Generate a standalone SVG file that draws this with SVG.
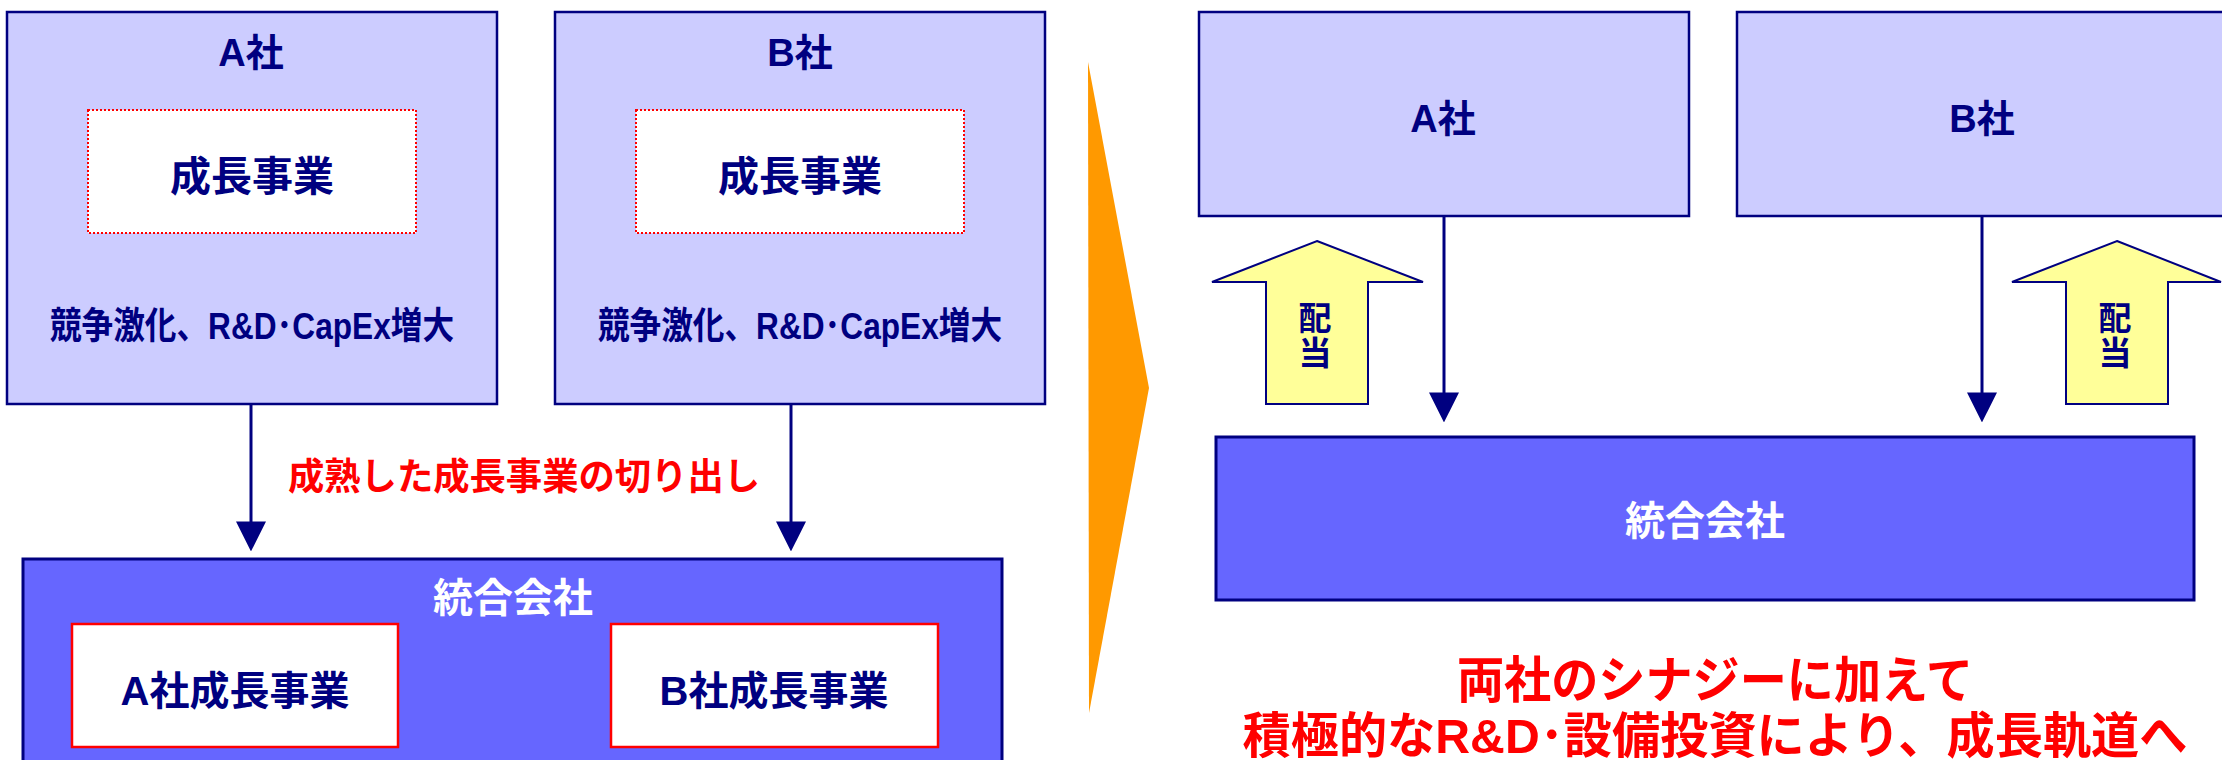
<svg xmlns="http://www.w3.org/2000/svg" width="2222" height="760" viewBox="0 0 2222 760">
<style>
text{font-family:'Liberation Sans','Noto Sans CJK JP',sans-serif;font-weight:bold;text-anchor:middle}
.co{fill:#CCCCFF;stroke:#000080;stroke-width:2.5}
.merged{fill:#6666FF;stroke:#000080;stroke-width:3}
.dot{fill:#FFFFFF;stroke:#FF0000;stroke-width:2;stroke-dasharray:2 2}
.biz{fill:#FFFFFF;stroke:#FF0000;stroke-width:2.5}
.navy{fill:#000080}
.white{fill:#FFFFFF}
.red{fill:#FF0000}
.conn{stroke:#000080;stroke-width:3;fill:none;marker-end:url(#ah)}
.div{fill:#FFFF99;stroke:#000080;stroke-width:2}
</style>
<defs>
<marker id="ah" markerUnits="userSpaceOnUse" markerWidth="30" markerHeight="30" viewBox="0 0 28 28" refX="8" refY="14" orient="auto">
<path d="M0,0 L28,14 L0,28 z" fill="#000080"/>
</marker>
</defs>
<rect width="2222" height="760" fill="#FFFFFF"/>

<!-- Left: before -->
<g id="companyA_left">
<rect class="co" x="7" y="12" width="490" height="392"/>
<text class="navy" x="251" y="66" font-size="38">A社</text>
<rect class="dot" x="88" y="110" width="328" height="123"/>
<text class="navy" x="252" y="191" font-size="41">成長事業</text>
<text class="navy" x="252" y="339" font-size="37" textLength="404" lengthAdjust="spacingAndGlyphs">競争激化、R&amp;D･CapEx増大</text>
</g>
<g id="companyB_left">
<rect class="co" x="555" y="12" width="490" height="392"/>
<text class="navy" x="800" y="66" font-size="38">B社</text>
<rect class="dot" x="636" y="110" width="328" height="123"/>
<text class="navy" x="800" y="191" font-size="41">成長事業</text>
<text class="navy" x="800" y="339" font-size="37" textLength="404" lengthAdjust="spacingAndGlyphs">競争激化、R&amp;D･CapEx増大</text>
</g>
<g id="merged_left">
<rect class="merged" x="23" y="559" width="979" height="215"/>
<text class="white" x="513" y="612" font-size="40">統合会社</text>
</g>
<g id="bizA">
<rect class="biz" x="72" y="624" width="326" height="123"/>
<text class="navy" x="235" y="705" font-size="40">A社成長事業</text>
</g>
<g id="bizB">
<rect class="biz" x="611" y="624" width="327" height="123"/>
<text class="navy" x="774" y="705" font-size="40">B社成長事業</text>
</g>
<g id="carveout_label">
<text class="red" x="524" y="490" font-size="37" textLength="472" lengthAdjust="spacingAndGlyphs">成熟した成長事業の切り出し</text>
</g>

<!-- Transition chevron -->
<g id="transition">
<polygon points="1088,62 1149,388 1089,713" fill="#FF9900"/>
</g>

<!-- Right: after -->
<g id="companyA_right">
<rect class="co" x="1199" y="12" width="490" height="204"/>
<text class="navy" x="1443" y="132" font-size="38">A社</text>
</g>
<g id="companyB_right">
<rect class="co" x="1737" y="12" width="490" height="204"/>
<text class="navy" x="1982" y="132" font-size="38">B社</text>
</g>
<g id="merged_right">
<rect class="merged" x="1216" y="437" width="978" height="163"/>
<text class="white" x="1705" y="535" font-size="40">統合会社</text>
</g>
<g id="dividendA">
<polygon class="div" points="1317,241 1423,282 1368,282 1368,404 1266,404 1266,282 1212,282"/>
<text class="navy" font-size="33"><tspan x="1315" y="330">配</tspan><tspan x="1315" y="365">当</tspan></text>
</g>
<g id="dividendB">
<polygon class="div" points="2117,241 2221,282 2168,282 2168,404 2066,404 2066,282 2012,282"/>
<text class="navy" font-size="33"><tspan x="2115" y="330">配</tspan><tspan x="2115" y="365">当</tspan></text>
</g>
<g id="conclusion">
<text class="red" x="1715" y="698" font-size="50" textLength="516" lengthAdjust="spacingAndGlyphs">両社のシナジーに加えて</text>
<text class="red" x="1715" y="753" font-size="49" textLength="945" lengthAdjust="spacingAndGlyphs">積極的なR&amp;D･設備投資により、成長軌道へ</text>
</g>

<g id="connectors">
<line class="conn" x1="251" y1="404" x2="251" y2="530"/>
<line class="conn" x1="791" y1="404" x2="791" y2="530"/>
<line class="conn" x1="1444" y1="216" x2="1444" y2="401"/>
<line class="conn" x1="1982" y1="216" x2="1982" y2="401"/>
</g>
</svg>
